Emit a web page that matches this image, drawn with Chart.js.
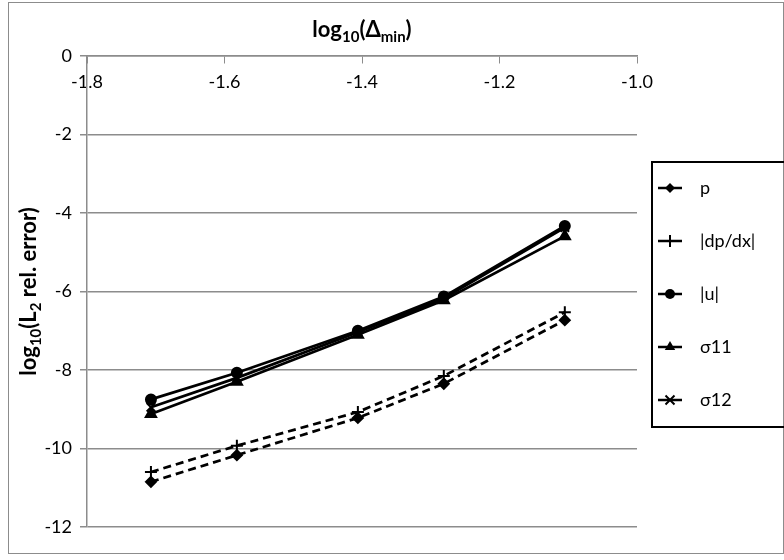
<!DOCTYPE html>
<html><head><meta charset="utf-8">
<script src="https://cdn.jsdelivr.net/npm/chart.js@4/dist/chart.umd.min.js"></script>
<style>html,body{margin:0;padding:0;background:#fff}#wrap{width:784px;height:560px;position:relative}</style>
</head><body><div id="wrap"><canvas id="c" width="784" height="560"></canvas></div>
<script>
// ---- data ----
const logDelta = [-1.707, -1.582, -1.406, -1.281, -1.105];
const pErr     = [-10.85, -10.17, -9.22, -8.35, -6.73];
const dpdxErr  = [-10.60, -9.93, -9.07, -8.15, -6.53];
const uErr     = [-8.75, -8.07, -7.00, -6.13, -4.33];
const s11Err   = [-9.12, -8.30, -7.10, -6.22, -4.59];
const s12Err   = [-8.95, -8.20, -7.04, -6.17, -4.37];
const seriesLabels = ['p', '|dp/dx|', '|u|', 'σ11', 'σ12'];
const xTicks = [-1.8, -1.6, -1.4, -1.2, -1.0];
const yTicks = [0, -2, -4, -6, -8, -10, -12];

const FONT = 'Lato, "Open Sans", sans-serif';
const seriesValues = [pErr, dpdxErr, uErr, s11Err, s12Err];
const styles = [
  {pointStyle: 'rectRot', radius: 5, dash: [8, 5]},
  {pointStyle: 'cross', radius: 6, dash: [8, 5]},
  {pointStyle: 'circle', radius: 5, dash: []},
  {pointStyle: 'triangle', radius: 6, dash: []},
  {pointStyle: 'crossRot', radius: 6, dash: []}
];

const datasets = seriesLabels.map((lab, i) => ({
  label: lab,
  data: logDelta.map((x, k) => ({x: x, y: seriesValues[i][k]})),
  borderColor: '#000', backgroundColor: '#000',
  borderWidth: 2.75, borderDash: styles[i].dash,
  pointStyle: styles[i].pointStyle, pointRadius: styles[i].radius,
  pointBorderWidth: 2, pointBackgroundColor: '#000', pointBorderColor: '#000',
  tension: 0, fill: false
}));

function drawRich(ctx, parts, x, y, size) {
  const mainF = 'bold ' + size + 'px ' + FONT;
  const subF = 'bold ' + Math.round(size * 0.68) + 'px ' + FONT;
  let total = 0;
  parts.forEach(p => { ctx.font = p[1] ? subF : mainF; total += ctx.measureText(p[0]).width; });
  let cx = x - total / 2;
  ctx.textAlign = 'left'; ctx.textBaseline = 'alphabetic'; ctx.fillStyle = '#000';
  parts.forEach(p => {
    ctx.font = p[1] ? subF : mainF;
    ctx.fillText(p[0], cx, p[1] ? y + size * 0.22 : y);
    cx += ctx.measureText(p[0]).width;
  });
}

function drawMarker(ctx, style, r, x, y) {
  ctx.save();
  ctx.fillStyle = '#000'; ctx.strokeStyle = '#000'; ctx.lineWidth = 2; ctx.setLineDash([]);
  ctx.beginPath();
  if (style === 'rectRot') {
    ctx.moveTo(x, y - r); ctx.lineTo(x + r, y); ctx.lineTo(x, y + r); ctx.lineTo(x - r, y); ctx.closePath(); ctx.fill();
  } else if (style === 'circle') {
    ctx.arc(x, y, r, 0, Math.PI * 2); ctx.fill();
  } else if (style === 'triangle') {
    ctx.moveTo(x, y - r); ctx.lineTo(x + r * 0.87, y + r * 0.5); ctx.lineTo(x - r * 0.87, y + r * 0.5); ctx.closePath(); ctx.fill();
  } else if (style === 'cross') {
    ctx.moveTo(x, y - r); ctx.lineTo(x, y + r); ctx.moveTo(x - r, y); ctx.lineTo(x + r, y); ctx.stroke();
  } else if (style === 'crossRot') {
    const d = r * 0.75;
    ctx.moveTo(x - d, y - d); ctx.lineTo(x + d, y + d); ctx.moveTo(x + d, y - d); ctx.lineTo(x - d, y + d); ctx.stroke();
  }
  ctx.restore();
}

const decor = {
  id: 'decor',
  beforeDraw(chart) {
    const ctx = chart.ctx;
    ctx.save();
    ctx.fillStyle = '#fff'; ctx.fillRect(0, 0, 784, 560);
    ctx.strokeStyle = '#8c8c8c'; ctx.lineWidth = 1;
    ctx.strokeRect(8.5, 2.5, 775, 551);
    ctx.restore();
  },
  afterDraw(chart) {
    const ctx = chart.ctx;
    const a = chart.chartArea;
    ctx.save();
    drawRich(ctx, [['log', false], ['10', true], ['(Δ', false], ['min', true], [')', false]], (a.left + a.right) / 2, 37, 22);
    ctx.save();
    ctx.translate(36, (a.top + a.bottom) / 2);
    ctx.rotate(-Math.PI / 2);
    drawRich(ctx, [['log', false], ['10', true], ['(L', false], ['2', true], [' rel. error)', false]], 0, 0, 22);
    ctx.restore();
    ctx.strokeStyle = '#000'; ctx.lineWidth = 2;
    ctx.strokeRect(652, 162, 140, 265);
    chart.data.datasets.forEach((ds, i) => {
      const y = 188 + i * 53;
      ctx.strokeStyle = '#000'; ctx.lineWidth = 2.5; ctx.setLineDash([]);
      ctx.beginPath(); ctx.moveTo(658, y); ctx.lineTo(682, y); ctx.stroke();
      drawMarker(ctx, styles[i].pointStyle, styles[i].radius, 670, y);
      ctx.font = '18px ' + FONT; ctx.fillStyle = '#000';
      ctx.textAlign = 'left'; ctx.textBaseline = 'middle';
      ctx.fillText(ds.label, 700, y);
    });
    ctx.restore();
  }
};

new Chart(document.getElementById('c'), {
  type: 'line',
  data: {datasets: datasets},
  options: {
    responsive: false, animation: false, devicePixelRatio: 1,
    layout: {padding: {top: 56, right: 147, bottom: 33, left: 0}},
    plugins: {legend: {display: false}, tooltip: {enabled: false}, title: {display: false}},
    scales: {
      x: {
        type: 'linear', min: -1.8, max: -1.0, position: {y: 0},
        afterBuildTicks: s => { s.ticks = xTicks.map(v => ({value: v})); },
        ticks: {callback: v => Number(v).toFixed(1), color: '#000', font: {family: FONT, size: 18}, padding: 8, maxRotation: 0},
        grid: {drawOnChartArea: false, drawTicks: true, tickLength: 7, color: '#8c8c8c', lineWidth: 1},
        border: {display: true, color: '#8c8c8c', width: 1.5}
      },
      y: {
        type: 'linear', min: -12, max: 0, position: 'left',
        afterBuildTicks: s => { s.ticks = yTicks.map(v => ({value: v})); },
        afterFit: s => { s.width = 87; },
        ticks: {callback: v => String(v), color: '#000', font: {family: FONT, size: 18}, padding: 8},
        grid: {color: '#8c8c8c', lineWidth: 1.5, tickLength: 7},
        border: {display: true, color: '#8c8c8c', width: 1.5}
      }
    }
  },
  plugins: [decor]
});
</script>
</body></html>
